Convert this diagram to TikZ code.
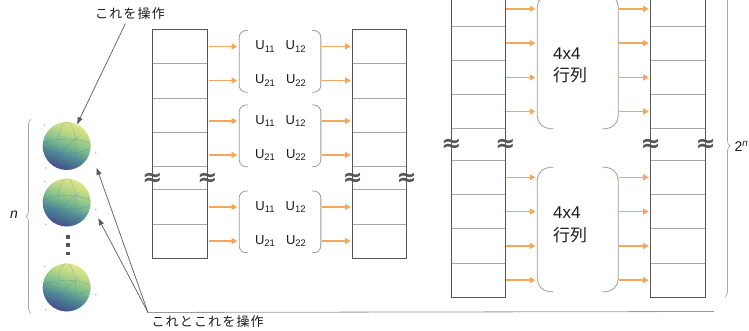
\documentclass[tikz,border=0pt]{standalone}
\usepackage{fontspec}
\setmainfont{Liberation Sans}
\newfontfamily\jp{Noto Sans CJK JP}
\newfontfamily\jpwide[LetterSpace=9]{Noto Sans CJK JP}
\newfontfamily\symfont{DejaVu Sans}
\usetikzlibrary{arrows.meta,calc,decorations.pathreplacing}

\definecolor{frameclr}{HTML}{555555}
\definecolor{cellclr}{HTML}{A8A8A8}
\definecolor{flowclr}{HTML}{F4A65A}
\definecolor{bracketclr}{HTML}{9A9A9A}
\definecolor{noteclr}{HTML}{5A5A5A}
\definecolor{txtclr}{HTML}{1A1A1A}
\definecolor{vtop}{HTML}{DDE489}
\definecolor{vhigh}{HTML}{B9D884}
\definecolor{vmid}{HTML}{7EBE8C}
\definecolor{vlow}{HTML}{4F8A93}
\definecolor{vbot}{HTML}{45568A}
\definecolor{meshclr}{HTML}{4F6FC0}

% viridis-like colouring of the Bloch spheres
\pgfdeclareverticalshading{viridisball}{100bp}{
  color(0bp)=(vbot); color(27bp)=(vbot); color(40bp)=(vlow);
  color(52bp)=(vmid); color(64bp)=(vhigh); color(74bp)=(vtop); color(100bp)=(vtop)}

% index set small and lowered, as in a matrix entry U_ij
\newcommand{\idx}[1]{\raisebox{-2.6pt}{\fontsize{9.5}{10}\selectfont #1}}

\tikzset{
  cell/.style={draw=cellclr, line width=0.7pt, minimum width=55pt, inner sep=0pt, outer sep=0pt},
  frameline/.style={draw=frameclr, line width=0.9pt},
  gapmark/.style={font=\symfont\bfseries\fontsize{24}{24}\selectfont, text=frameclr, inner sep=0pt},
  flow/.style={draw=flowclr, line width=1.5pt, -{Triangle[length=5.5pt,width=6pt]}, shorten <=1pt, shorten >=2pt},
  pbox/.style={draw=none, inner sep=0pt, outer sep=0pt},
  paren/.style={draw=bracketclr, line width=0.8pt},
  entry/.style={font=\fontsize{13}{15}\selectfont, text=txtclr, inner sep=0pt},
  matlabel/.style={font=\fontsize{17}{22.7}\selectfont, text=txtclr, align=left, inner sep=0pt},
  note/.style={font=\jpwide\fontsize{13}{15}\selectfont, text=txtclr},
  pointer/.style={draw=noteclr, line width=0.7pt, -{Triangle[length=7pt,width=5pt]}},
  curly/.style={draw=gray!70, line width=0.7pt, decorate, decoration={brace, amplitude=5pt}},
  qubit/.style={circle, minimum size=48pt, inner sep=0pt,
    shading=viridisball, shading angle=-20,
    path picture={
      \coordinate (pc) at (path picture bounding box.center);
      \draw[meshclr, line width=0.35pt, opacity=0.5] (pc) ellipse [x radius=24, y radius=7];
      \draw[meshclr, line width=0.35pt, opacity=0.4, rotate around={25:(pc)}] (pc) ellipse [x radius=9, y radius=24];
      \draw[meshclr, line width=0.35pt, opacity=0.4] ($(pc)+(-22,20)$) -- ($(pc)+(12,-10)$);
    }},
  tick/.style={fill=gray!55, draw=none},
}

\begin{document}
\begin{tikzpicture}[x=1pt, y=-1pt]
\useasboundingbox (0,0) rectangle (749,331);
\clip (0,0) rectangle (749,331);

% ---------- qubits on the left ----------
\node[qubit] (s1) at (66.7,146) {};
\node[qubit] (s2) at (66.7,202.5) {};
\node[qubit] (s3) at (66.7,287.5) {};
\foreach \s in {s1,s2,s3}{
  \fill[tick] ($(\s)+(-22,-21)$) circle (0.8);
  \fill[tick] ($(\s)+(29,7)$) circle (0.8);
  \fill[tick] ($(\s)+(-21,22)$) circle (0.8);
}
\foreach \yy in {236.7,245,253.3}
  \fill[frameclr] (68,\yy) ++(-1.8,-1.8) rectangle ++(3.6,3.6);

\draw[curly] (31,313.3) -- (31,119.3);
\node[font=\itshape\fontsize{14}{16}\selectfont, text=txtclr] (nlab) at (14,215) {n};

% labels and pointers
\node[note] (lab1) at (130,14) {これを操作};
\draw[pointer] (lab1) -- (s1);
\node[note, anchor=west] (lab2) at (148,322) {これとこれを操作};
\coordinate (hub) at (lab2.north west);
\coordinate (ruleend) at (714,311.5);
\draw[bracketclr, line width=0.8pt] (hub) -- (ruleend);
\draw[pointer] (hub) -- ($(s1)+(30,22)$);
\draw[pointer] (hub) -- ($(s2)+(31.6,15.8)$);

% ---------- state vector columns with 2x2 blocks ----------
\foreach \i/\t/\b in {1/29/63.5, 2/63.5/98, 3/98/132.5, 4/132.5/166, 5/166/189.5, 6/189.5/224, 7/224/258.5}{
  \node[cell, minimum height={\b-\t}] (A\i) at (180,{(\t+\b)/2}) {};
  \node[cell, minimum height={\b-\t}, minimum width=54pt] (B\i) at (379.7,{(\t+\b)/2}) {};
}
\draw[frameline] (A1.north west) rectangle (A7.south east);
\draw[frameline] (B1.north west) rectangle (B7.south east);
\foreach \c in {A5,B5}{
  \node[gapmark] at ([yshift=-2pt]\c.west) {≈};
  \node[gapmark] at ([yshift=-2pt]\c.east) {≈};
}

% 2x2 blocks
\foreach \m/\cy in {m1/61.35, m2/135.85, m3/221.85}{
  \node[pbox, minimum width=81.7pt, minimum height=61.7pt] (\m) at (280,\cy) {};
  \draw[paren, rounded corners=7pt] ($(\m.north west)+(9,0)$) -- (\m.north west) -- (\m.south west) -- ($(\m.south west)+(9,0)$);
  \draw[paren, rounded corners=7pt] ($(\m.north east)+(-9,0)$) -- (\m.north east) -- (\m.south east) -- ($(\m.south east)+(-9,0)$);
  \node[entry] (\m a) at ($(\m.north)+(0.5,16)$) {U\idx{11}\hspace{11pt}U\idx{12}};
  \node[entry] (\m b) at ($(\m.north)+(0.5,50)$) {U\idx{21}\hspace{11pt}U\idx{22}};
}
\foreach \m in {m1,m2,m3}{
  \foreach \r in {a,b}{
    \draw[flow] (A1.east |- \m\r) -- (\m.west |- \m\r);
    \draw[flow] (\m.east |- \m\r) -- (B1.west |- \m\r);
  }
}

% ---------- state vector columns with 4x4 blocks ----------
\foreach \i/\t/\b in {1/-8.3/26, 2/26/60.3, 3/60.3/94.5, 4/94.5/128.5, 5/128.5/160.3, 6/160.3/194.3, 7/194.3/228.8, 8/228.8/263.2, 9/263.2/297}{
  \node[cell, minimum height={\b-\t}, minimum width=54pt] (C\i) at (478.4,{(\t+\b)/2}) {};
  \node[cell, minimum height={\b-\t}] (D\i) at (678.2,{(\t+\b)/2}) {};
}
\draw[frameline] (C1.north west) rectangle (C9.south east);
\draw[frameline] (D1.north west) rectangle (D9.south east);
\foreach \c in {C5,D5}{
  \node[gapmark] at ([yshift=-1pt]\c.west) {≈};
  \node[gapmark] at ([yshift=-1pt]\c.east) {≈};
}

\node[pbox, minimum width=81pt, minimum height=134.7pt] (M1) at (577.8,61.35) {};
\node[pbox, minimum width=81pt, minimum height=124.4pt] (M2) at (577.8,229.5) {};
\foreach \m in {M1,M2}{
  \draw[paren, rounded corners=13pt] ($(\m.north west)+(16,0)$) -- (\m.north west) -- (\m.south west) -- ($(\m.south west)+(16,0)$);
  \draw[paren, rounded corners=13pt] ($(\m.north east)+(-16,0)$) -- (\m.north east) -- (\m.south east) -- ($(\m.south east)+(-16,0)$);
}
\node[matlabel, anchor=west] (t1) at (553,65.3) {4x4\\{\jp 行列}};
\node[matlabel, anchor=west] (t2) at (553,224.7) {4x4\\{\jp 行列}};

\foreach \c/\m in {1/M1,2/M1,3/M1,4/M1,6/M2,7/M2,8/M2,9/M2}{
  \draw[flow] (C\c.east) -- (\m.west |- C\c.east);
  \draw[flow] (\m.east |- D\c.west) -- (D\c.west);
}

% dimension brace on the right
\draw[curly] (725,-4.7) -- (725,296.7);
\node[anchor=west, font=\fontsize{14}{16}\selectfont, text=txtclr, inner sep=0pt] (dim) at (734.5,146) {2\textsuperscript{\itshape n}};
\end{tikzpicture}
\end{document}
